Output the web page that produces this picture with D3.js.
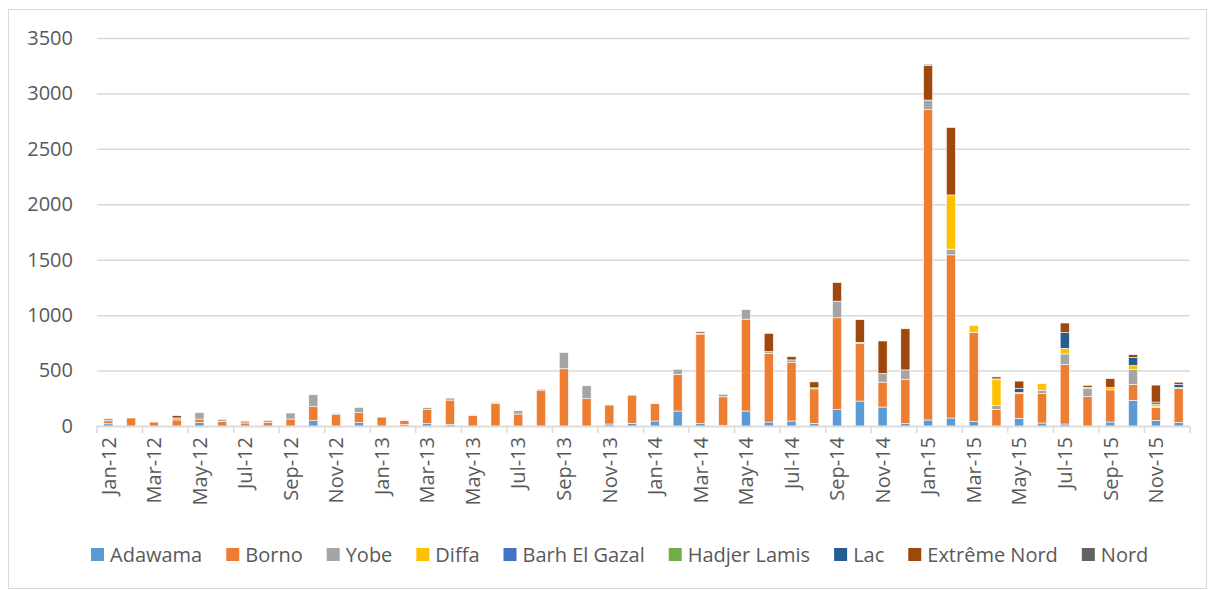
<!DOCTYPE html>
<html><head><meta charset="utf-8">
<script src="https://cdn.jsdelivr.net/npm/d3@7"></script>
<style>
body{margin:0;background:#fff;}
text{font-family:"Open Sans",sans-serif;}
</style>
</head><body>
<svg id="c" width="1215" height="590"></svg>
<script>
const categories = ["Jan-12","Feb-12","Mar-12","Apr-12","May-12","Jun-12","Jul-12","Aug-12","Sep-12","Oct-12","Nov-12","Dec-12",
"Jan-13","Feb-13","Mar-13","Apr-13","May-13","Jun-13","Jul-13","Aug-13","Sep-13","Oct-13","Nov-13","Dec-13",
"Jan-14","Feb-14","Mar-14","Apr-14","May-14","Jun-14","Jul-14","Aug-14","Sep-14","Oct-14","Nov-14","Dec-14",
"Jan-15","Feb-15","Mar-15","Apr-15","May-15","Jun-15","Jul-15","Aug-15","Sep-15","Oct-15","Nov-15","Dec-15"];
const tickLabels = ["Jan-12","Mar-12","May-12","Jul-12","Sep-12","Nov-12","Jan-13","Mar-13","May-13","Jul-13","Sep-13","Nov-13",
"Jan-14","Mar-14","May-14","Jul-14","Sep-14","Nov-14","Jan-15","Mar-15","May-15","Jul-15","Sep-15","Nov-15"];
const yTicks = [0,500,1000,1500,2000,2500,3000,3500];

const adawama      = [20,0,0,0,30,0,0,0,0,48,0,30, 0,12,21,15,0,0,0,0,0,0,18,24, 45,135,21,3,135,36,45,24,147,225,171,21, 54,72,39,0,69,27,18,0,36,230,51,30];
const borno        = [27,72,35,55,33,42,27,30,63,126,102,90, 80,36,126,219,96,201,108,324,516,246,171,255, 156,332,808,260,829,620,527,311,829,521,225,398, 2799,1472,805,150,225,266,536,266,290,144,114,308];
const yobe         = [22,0,0,18,57,18,18,21,54,108,12,48, 0,0,18,18,6,12,30,9,147,117,0,6, 0,45,9,24,87,15,24,0,150,9,78,87, 87,51,0,33,9,30,96,75,0,135,12,9];
const diffa        = [0,0,0,0,0,0,0,0,0,0,0,0, 0,0,0,0,0,0,0,0,0,0,0,0, 0,0,0,0,0,0,0,0,0,0,0,0, 0,489,63,234,0,60,51,0,21,36,21,0];
const barhElGazal  = [0,0,0,0,0,0,0,0,0,0,0,0, 0,0,0,0,0,0,0,0,0,0,0,0, 0,0,0,0,0,0,0,0,0,0,0,0, 0,0,0,0,0,0,0,0,0,0,0,0];
const hadjerLamis  = [0,0,0,0,0,0,0,0,0,0,0,0, 0,0,0,0,0,0,0,0,0,0,0,0, 0,0,0,0,0,0,0,9,0,0,0,0, 0,0,0,0,0,0,0,0,0,0,0,0];
const lac          = [0,0,0,0,0,0,0,0,0,0,0,0, 0,0,0,0,0,0,0,0,0,0,0,0, 0,0,0,0,0,0,0,0,0,0,0,0, 0,0,0,8,36,0,141,8,0,72,18,27];
const extremeNord  = [0,0,0,20,0,0,0,0,0,0,0,0, 0,0,0,0,0,0,0,0,0,0,0,0, 0,0,12,0,0,165,30,54,168,204,293,371, 314,609,0,18,66,0,87,18,81,27,153,21];
const nord         = [0,0,0,0,0,0,0,0,0,0,0,0, 0,0,0,0,0,0,0,0,0,0,0,0, 0,0,0,0,0,0,0,0,0,0,0,0, 9,0,0,0,0,0,0,0,0,0,0,0];

const seriesNames  = ["Adawama","Borno","Yobe","Diffa","Barh El Gazal","Hadjer Lamis","Lac","Extrême Nord","Nord"];
const seriesValues = [adawama,borno,yobe,diffa,barhElGazal,hadjerLamis,lac,extremeNord,nord];
const seriesColors = ["#5b9bd5","#ed7d31","#a5a5a5","#ffc000","#4472c4","#70ad47","#255e91","#9e480e","#636363"];

const rows = categories.map((c,i)=>{
  const r = {cat:c};
  seriesNames.forEach((s,k)=>{ r[s] = seriesValues[k][i]; });
  return r;
});

const svg = d3.select("#c");
const textColor = "#595959";
const gridColor = "#d9d9d9";

svg.append("rect").attr("x",8.5).attr("y",9.5).attr("width",1198).attr("height",579)
  .attr("fill","#fff").attr("stroke",gridColor).attr("stroke-width",1);

const x = d3.scaleBand().domain(categories).range([97,1190]).paddingInner(0.6).paddingOuter(0.3);
const y = d3.scaleLinear().domain([0,3500]).range([426,38]);

// y axis with gridlines
const yAxis = svg.append("g").attr("transform","translate(97,0)")
  .call(d3.axisLeft(y).tickValues(yTicks).tickSize(-(1190-97)).tickPadding(24).tickFormat(d3.format("d")));
yAxis.select(".domain").remove();
yAxis.selectAll("line").attr("stroke",gridColor).attr("stroke-width",1.5);
yAxis.selectAll("text").attr("fill",textColor).attr("font-size",20).attr("font-family","'Open Sans',sans-serif");

// stacked bars
const stacked = d3.stack().keys(seriesNames)(rows);
const layers = svg.append("g").selectAll("g").data(stacked).join("g")
  .attr("fill",(d,i)=>seriesColors[i]);
layers.selectAll("rect").data(d=>d.filter(p=>p[1]-p[0]>0)).join("rect")
  .attr("x",d=>x(d.data.cat))
  .attr("width",x.bandwidth())
  .attr("y",d=>y(d[1]))
  .attr("height",d=>y(d[0])-y(d[1]))
  .attr("stroke","#fff").attr("stroke-width",0.6);

// x axis
const xAxis = svg.append("g").attr("transform","translate(0,426)")
  .call(d3.axisBottom(x).tickValues(tickLabels).tickSize(0));
xAxis.select(".domain").attr("stroke",gridColor).attr("stroke-width",1.5);
xAxis.selectAll("text")
  .attr("transform","rotate(-90)")
  .attr("text-anchor","end")
  .attr("x",-11).attr("y",0).attr("dy","0.36em")
  .attr("fill",textColor).attr("font-size",20).attr("font-family","'Open Sans',sans-serif");
// tick marks between categories, every 2 months
const step = x.step();
const x0 = x.range()[0];
svg.append("g").selectAll("line").data(d3.range(0,categories.length+1,2)).join("line")
  .attr("x1",i=>x0+i*step).attr("x2",i=>x0+i*step)
  .attr("y1",426).attr("y2",433)
  .attr("stroke",gridColor).attr("stroke-width",1.5);

// legend
const legend = svg.append("g");
let lx = 91;
seriesNames.forEach((s,i)=>{
  legend.append("rect").attr("x",lx).attr("y",548).attr("width",13).attr("height",13).attr("fill",seriesColors[i]);
  const t = legend.append("text").attr("x",lx+19).attr("y",555).attr("dy","0.36em")
    .attr("fill",textColor).attr("font-size",20).text(s);
  lx += 19 + t.node().getComputedTextLength() + 24;
});
</script>
</body></html>
